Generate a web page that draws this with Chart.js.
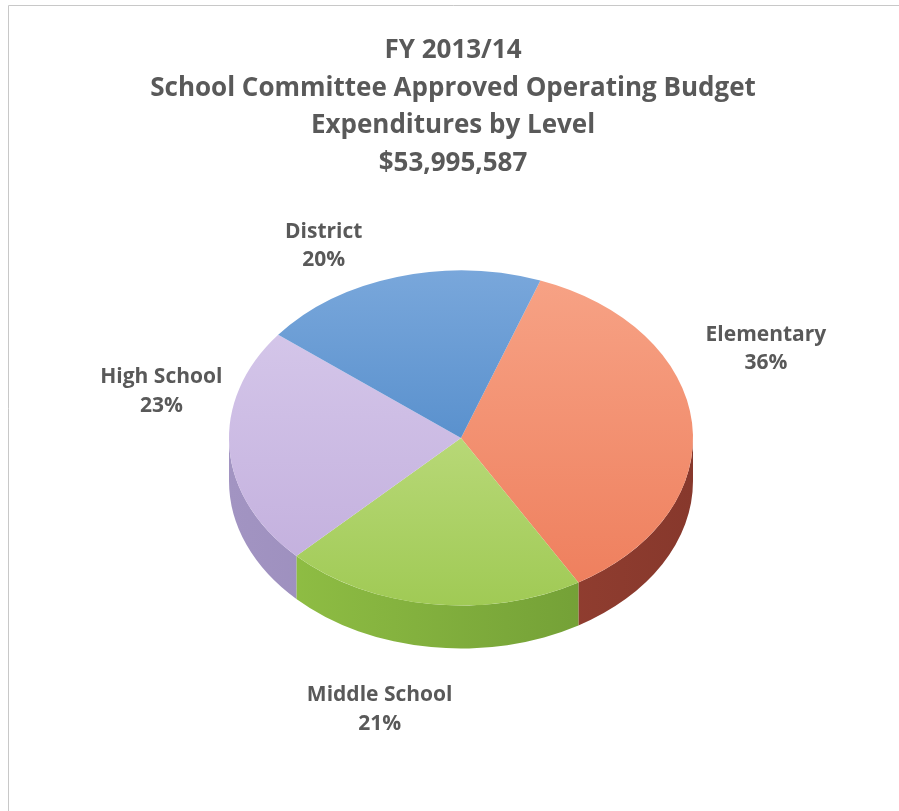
<!DOCTYPE html>
<html>
<head>
<meta charset="utf-8">
<title>FY 2013/14 Operating Budget by Level</title>
<script src="https://cdn.jsdelivr.net/npm/chart.js@4.4.1/dist/chart.umd.min.js"></script>
<style>
  html, body { margin: 0; padding: 0; background: #ffffff; }
  #wrap { position: relative; width: 899px; height: 811px; }
</style>
</head>
<body>
<div id="wrap"><canvas id="budget"></canvas></div>
<script>
// ---- Data ----
const titleLines = [
  'FY 2013/14',
  'School Committee Approved Operating Budget',
  'Expenditures by Level',
  '$53,995,587'
];
const levels = ['Elementary', 'Middle School', 'High School', 'District'];
const shares = [36, 21, 23, 20];

// ---- Styling ----
const topColors = [
  ['#F7A386', '#EE7D5B'],
  ['#CFE699', '#A0CA55'],
  ['#D8CBEC', '#C1ADDC'],
  ['#79A7DB', '#3B7BC0']
];
const sideColors = [
  ['#A84B39', '#87382C'],
  ['#94C346', '#6A9632'],
  ['#A294C2', '#8A7CAE'],
  ['#3C6FA8', '#2F5D90']
];
const textColor = '#595959';
const fontFamily = '"Open Sans", Lato, sans-serif';
const tilt = 0.722;   // vertical squash of the pie top
const depth = 43;     // thickness of the pie edge in px

// Draws the pie edge, then squashes the library's own arcs into an ellipse.
const pie3d = {
  id: 'pie3d',
  beforeDatasetsDraw(chart) {
    const ctx = chart.ctx;
    const arcs = chart.getDatasetMeta(0).data;
    const {x: cx, y: cy, outerRadius: r} = arcs[0].getProps(['x', 'y', 'outerRadius'], true);
    const ry = r * tilt;
    ctx.save();
    arcs.forEach((arc, i) => {
      const {startAngle, endAngle} = arc.getProps(['startAngle', 'endAngle'], true);
      for (const k of [-2, 0, 2]) {
        const lo = Math.max(startAngle, k * Math.PI);
        const hi = Math.min(endAngle, (k + 1) * Math.PI);
        if (hi <= lo) continue;
        const g = ctx.createLinearGradient(cx - r, 0, cx + r, 0);
        g.addColorStop(0, sideColors[i][0]);
        g.addColorStop(1, sideColors[i][1]);
        ctx.beginPath();
        ctx.ellipse(cx, cy, r, ry, 0, lo, hi);
        ctx.ellipse(cx, cy + depth, r, ry, 0, hi, lo, true);
        ctx.closePath();
        ctx.fillStyle = g;
        ctx.fill();
      }
    });
    ctx.restore();
    ctx.save();
    ctx.translate(cx, cy);
    ctx.scale(1, tilt);
    ctx.translate(-cx, -cy);
  },
  afterDatasetsDraw(chart) {
    chart.ctx.restore();
  }
};

// Title, frame and slice labels.
const decorations = {
  id: 'decorations',
  beforeDraw(chart) {
    const ctx = chart.ctx;
    ctx.save();
    ctx.strokeStyle = '#c8c8c8';
    ctx.lineWidth = 1;
    ctx.beginPath();
    ctx.moveTo(8.5, chart.height);
    ctx.lineTo(8.5, 5.5);
    ctx.lineTo(chart.width, 5.5);
    ctx.stroke();
    ctx.restore();
  },
  afterDraw(chart, args, opts) {
    const ctx = chart.ctx;
    ctx.save();
    ctx.fillStyle = textColor;
    ctx.textAlign = 'center';
    ctx.textBaseline = 'alphabetic';
    ctx.font = 'bold 26px ' + fontFamily;
    titleLines.forEach((t, i) => ctx.fillText(t, opts.titleX, opts.titleBaseline + i * opts.titleStep));

    const arcs = chart.getDatasetMeta(0).data;
    const total = shares.reduce((a, b) => a + b, 0);
    ctx.font = 'bold 21px ' + fontFamily;
    arcs.forEach((arc, i) => {
      const {x: cx, y: cy, outerRadius: r, startAngle, endAngle} =
        arc.getProps(['x', 'y', 'outerRadius', 'startAngle', 'endAngle'], true);
      const mid = (startAngle + endAngle) / 2;
      const f = opts.labelReach;
      const px = cx + r * f * Math.cos(mid) + opts.nudge[i][0];
      const py = cy + r * tilt * f * Math.sin(mid) + depth * Math.max(0, Math.sin(mid)) + opts.nudge[i][1];
      const pct = Math.round(shares[i] / total * 100) + '%';
      ctx.fillText(levels[i], px, py + 7.5 - opts.lineGap / 2);
      ctx.fillText(pct, px, py + 7.5 + opts.lineGap / 2);
    });
    ctx.restore();
  }
};

new Chart(document.getElementById('budget'), {
  type: 'pie',
  data: {
    labels: levels,
    datasets: [{
      data: shares,
      borderWidth: 0,
      backgroundColor: (c) => {
        const area = c.chart.chartArea;
        if (!area) return topColors[c.dataIndex][1];
        const g = c.chart.ctx.createLinearGradient(0, area.top, 0, area.bottom);
        g.addColorStop(0, topColors[c.dataIndex][0]);
        g.addColorStop(1, topColors[c.dataIndex][1]);
        return g;
      }
    }]
  },
  options: {
    responsive: true,
    maintainAspectRatio: false,
    animation: false,
    events: [],
    rotation: 20,
    layout: { padding: { left: 229, right: 206, top: 206, bottom: 141 } },
    plugins: {
      legend: { display: false },
      tooltip: { enabled: false },
      title: { display: false },
      decorations: {
        titleX: 453,
        titleBaseline: 58,
        titleStep: 37.5,
        labelReach: 1.35,
        lineGap: 28.5,
        nudge: [[-7, -70], [-41, 3], [13, -64], [-51, 24]]
      }
    }
  },
  plugins: [pie3d, decorations]
});
</script>
</body>
</html>
